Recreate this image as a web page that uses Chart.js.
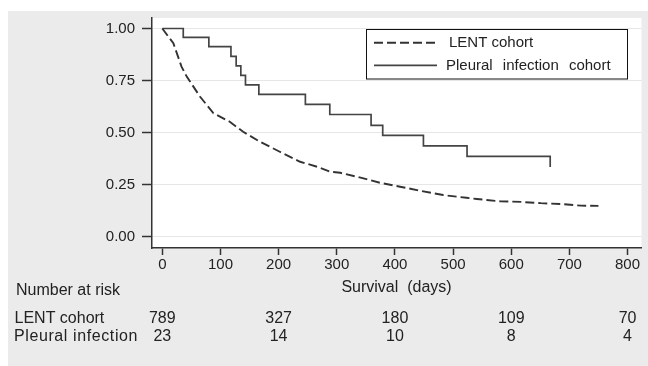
<!DOCTYPE html>
<html>
<head>
<meta charset="utf-8">
<script src="https://cdn.jsdelivr.net/npm/chart.js@4.4.1/dist/chart.umd.min.js"></script>
<style>
  html, body { margin: 0; padding: 0; background: #fff; }
  #wrap { width: 648px; height: 366px; }
</style>
</head>
<body>
<div id="wrap"><canvas id="km" width="648" height="366"></canvas></div>
<script>
// Kaplan-Meier curves
const lentDays = [0, 19, 33, 42, 65, 88, 116, 139, 168, 202, 237, 266, 289, 306, 346, 374, 409, 443, 483, 523, 541, 581, 617, 651, 686, 720, 750];
const lentSurv = [1.0, 0.929, 0.817, 0.769, 0.672, 0.593, 0.552, 0.504, 0.456, 0.408, 0.360, 0.336, 0.312, 0.307, 0.280, 0.259, 0.240, 0.221, 0.200, 0.187, 0.181, 0.170, 0.167, 0.161, 0.157, 0.149, 0.148];

const pleuralDays = [0, 36, 80, 118, 127, 135, 143, 166, 246, 288, 359, 379, 449, 524, 667];
const pleuralSurv = [1.0, 0.957, 0.913, 0.866, 0.820, 0.775, 0.729, 0.684, 0.636, 0.587, 0.535, 0.487, 0.436, 0.386, 0.335];

const yTicks = [0, 0.25, 0.5, 0.75, 1];
const xTicks = [0, 100, 200, 300, 400, 500, 600, 700, 800];

// number at risk table
const riskDays = [0, 200, 400, 600, 800];
const riskLent = [789, 327, 180, 109, 70];
const riskPleural = [23, 14, 10, 8, 4];
const riskLabels = ["LENT cohort", "Pleural infection"];

const FONT = "'Liberation Sans', Arial, sans-serif";
const TEXT = "#222";

function toPoints(xs, ys) {
  return xs.map((x, i) => ({ x: x, y: ys[i] }));
}

const backgroundPlugin = {
  id: "bg",
  beforeDraw(chart) {
    const ctx = chart.ctx;
    const a = chart.chartArea;
    ctx.save();
    ctx.fillStyle = "#fff";
    ctx.fillRect(0, 0, chart.width, chart.height);
    ctx.fillStyle = "#ebebeb";
    ctx.fillRect(8, 11, chart.width - 8, chart.height - 11);
    ctx.fillStyle = "#fff";
    ctx.fillRect(a.left, a.top, a.right - a.left, a.bottom - a.top);
    ctx.restore();
  },
};

const legendBoxPlugin = {
  id: "legendBox",
  afterDraw(chart) {
    const ctx = chart.ctx;
    ctx.save();
    ctx.fillStyle = "#fff";
    ctx.fillRect(366.5, 29.5, 261, 49.5);
    ctx.strokeStyle = "#111";
    ctx.lineWidth = 1;
    ctx.strokeRect(366.5, 29.5, 261, 49.5);
    chart.data.datasets.forEach((ds, i) => {
      const y = 42.7 + i * 22.6;
      ctx.beginPath();
      ctx.strokeStyle = ds.borderColor;
      ctx.lineWidth = ds.borderWidth;
      ctx.setLineDash(ds.borderDash || []);
      ctx.moveTo(374, y);
      ctx.lineTo(437, y);
      ctx.stroke();
      ctx.setLineDash([]);
      ctx.fillStyle = TEXT;
      ctx.font = "15px " + FONT;
      ctx.textBaseline = "middle";
      ctx.textAlign = "left";
      ctx.wordSpacing = i === 0 ? "0px" : "6px";
      ctx.fillText(ds.label, i === 0 ? 449 : 446, y + 0.5);
    });
    ctx.restore();
  },
};

const riskTablePlugin = {
  id: "riskTable",
  afterDraw(chart) {
    const ctx = chart.ctx;
    const xs = chart.scales.x;
    ctx.save();
    ctx.fillStyle = TEXT;
    ctx.font = "16px " + FONT;
    ctx.textBaseline = "middle";
    ctx.textAlign = "left";
    ctx.fillText("Number at risk", 16, 291);
    ctx.fillText(riskLabels[0], 14.5, 319);
    ctx.letterSpacing = "0.6px";
    ctx.fillText(riskLabels[1], 14, 337);
    ctx.letterSpacing = "0px";
    ctx.textAlign = "center";
    riskDays.forEach((d, i) => {
      const px = xs.getPixelForValue(d);
      ctx.fillText(String(riskLent[i]), px, 319);
      ctx.fillText(String(riskPleural[i]), px, 337);
    });
    ctx.restore();
  },
};

new Chart(document.getElementById("km"), {
  type: "line",
  data: {
    datasets: [
      {
        label: "LENT cohort",
        data: toPoints(lentDays, lentSurv),
        borderColor: "#333",
        borderWidth: 1.9,
        borderDash: [9, 4],
        pointRadius: 0,
        tension: 0,
        fill: false,
      },
      {
        label: "Pleural infection cohort",
        data: toPoints(pleuralDays, pleuralSurv),
        borderColor: "#444",
        borderWidth: 1.7,
        stepped: true,
        pointRadius: 0,
        fill: false,
      },
    ],
  },
  options: {
    responsive: false,
    animation: false,
    devicePixelRatio: 1,
    layout: { padding: { top: 18, right: 6.5, left: 0, bottom: 0 } },
    plugins: {
      legend: { display: false },
      tooltip: { enabled: false },
    },
    scales: {
      x: {
        type: "linear",
        min: -18.6,
        max: 824,
        afterFit(scale) { scale.height = 118; },
        afterBuildTicks(scale) { scale.ticks = xTicks.map((v) => ({ value: v })); },
        border: { color: "#333", width: 1.5 },
        grid: { drawOnChartArea: false, tickLength: 7, tickColor: "#333", tickWidth: 1.5 },
        ticks: {
          color: TEXT,
          padding: 1,
          maxRotation: 0,
          font: { family: FONT, size: 15 },
        },
        title: {
          display: true,
          text: "Survival  (days)",
          color: TEXT,
          font: { family: FONT, size: 16 },
          padding: { top: 0, bottom: 68.5 },
        },
      },
      y: {
        min: -0.0543,
        max: 1.0504,
        afterFit(scale) { scale.width = 151.5; },
        afterBuildTicks(scale) { scale.ticks = yTicks.map((v) => ({ value: v })); },
        border: { color: "#333", width: 1.5 },
        grid: { color: "#e6e6e6", lineWidth: 1, tickLength: 9.5, tickColor: "#333", tickWidth: 1.5 },
        ticks: {
          color: TEXT,
          padding: 7,
          font: { family: FONT, size: 15 },
          callback: (v) => Number(v).toFixed(2),
        },
      },
    },
  },
  plugins: [backgroundPlugin, legendBoxPlugin, riskTablePlugin],
});
</script>
</body>
</html>
